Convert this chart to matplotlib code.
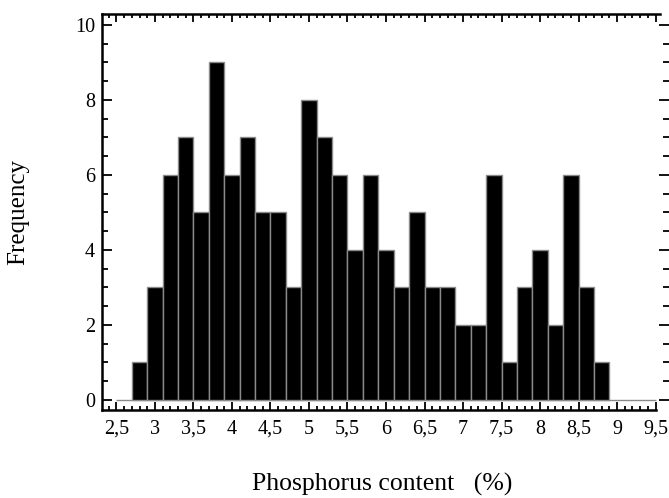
import numpy as np
import matplotlib
matplotlib.use("Agg")
import matplotlib.pyplot as plt
from matplotlib.ticker import FixedLocator, MultipleLocator, FuncFormatter

# Histogram of phosphorus content (%), class width 0.2
bin_left = [2.7, 2.9, 3.1, 3.3, 3.5, 3.7, 3.9, 4.1, 4.3, 4.5, 4.7, 4.9, 5.1, 5.3,
            5.5, 5.7, 5.9, 6.1, 6.3, 6.5, 6.7, 6.9, 7.1, 7.3, 7.5, 7.7, 7.9, 8.1,
            8.3, 8.5, 8.7]
frequency = [1, 3, 6, 7, 5, 9, 6, 7, 5, 5, 3, 8, 7, 6,
             4, 6, 4, 3, 5, 3, 3, 2, 2, 6, 1, 3, 4, 2,
             6, 3, 1]
bin_width = 0.2

x_major = [2.5, 3, 3.5, 4, 4.5, 5, 5.5, 6, 6.5, 7, 7.5, 8, 8.5, 9, 9.5]
y_major = [0, 2, 4, 6, 8, 10]

plt.rcParams["font.family"] = ["Liberation Serif", "DejaVu Serif"]

W, H = 669, 498
fig = plt.figure(figsize=(W / 100, H / 100), dpi=100)
ax = fig.add_axes([102 / W, (H - 410) / H, (W - 102) / W, (410 - 14.5) / H])

ax.bar(bin_left, frequency, width=bin_width, align="edge",
       color="black", edgecolor="#8a8a8a", linewidth=1.0, zorder=3)
ax.hlines(0, x_major[0], x_major[-1], color="#8a8a8a", linewidth=1.0, zorder=2)

ax.set_xlim(2.312, 9.675)
ax.set_ylim(-0.267, 10.28)

ax.xaxis.set_major_locator(FixedLocator(x_major))
ax.xaxis.set_minor_locator(FixedLocator(np.round(np.arange(2.4, 9.55, 0.1), 2)))
ax.yaxis.set_major_locator(FixedLocator(y_major))
ax.yaxis.set_minor_locator(MultipleLocator(0.5))


def comma_fmt(v, pos):
    s = f"{v:g}"
    return s.replace(".", ",")


ax.xaxis.set_major_formatter(FuncFormatter(comma_fmt))
ax.yaxis.set_major_formatter(FuncFormatter(comma_fmt))

for side in ("left", "top", "bottom"):
    ax.spines[side].set_linewidth(1.8)
ax.spines["right"].set_visible(False)
ax.spines["top"].set_bounds(2.312, 9.56)
ax.spines["bottom"].set_bounds(2.312, 9.5)

ax.tick_params(axis="x", which="both", direction="in", top=True, bottom=True,
               labelsize=14.5, pad=7, width=1.3)
ax.tick_params(axis="x", which="major", length=5.5)
ax.tick_params(axis="x", which="minor", length=2.8)
ax.tick_params(axis="y", which="both", direction="in", left=True, right=True,
               labelsize=14.5, pad=5, width=1.3)
ax.tick_params(axis="y", which="major", length=7.5)
ax.tick_params(axis="y", which="minor", length=4.2)

fig.text(18 / W, 1 - 212 / H, "Frequency", rotation=90, ha="center", va="center",
         fontsize=18)
fig.text(382 / W, 1 - 484 / H, "Phosphorus content   (%)", ha="center",
         va="center", fontsize=18.5)

fig.savefig("out.png", dpi=100)
